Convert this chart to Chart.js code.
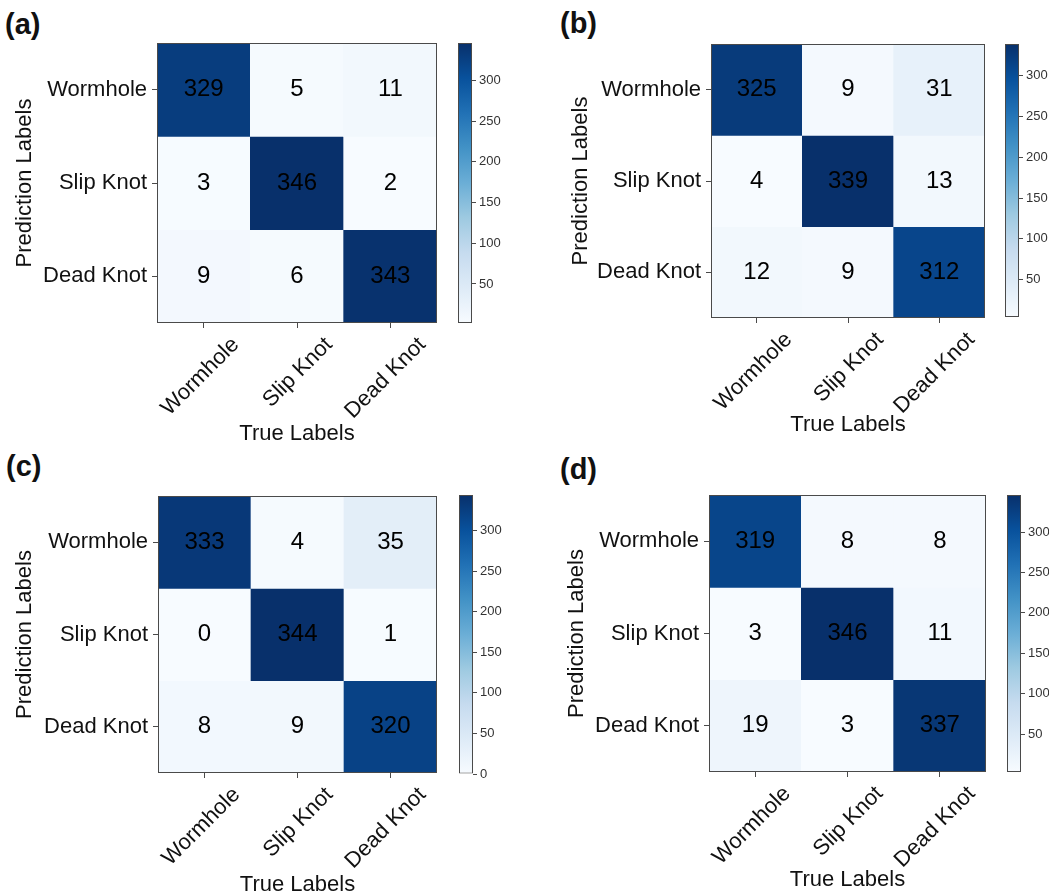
<!DOCTYPE html>
<html>
<head>
<meta charset="utf-8">
<script src="https://cdn.jsdelivr.net/npm/chart.js@4.4.1/dist/chart.umd.min.js"></script>
<style>
  html, body { margin: 0; padding: 0; background: #fff; }
  body { width: 1049px; height: 896px; position: relative; overflow: hidden;
         font-family: 'Liberation Sans', Arial, sans-serif; }
  canvas { position: absolute; }
  .tag { position: absolute; font-weight: bold; font-size: 29px; line-height: 29px; color: #111; }
</style>
</head>
<body>
<div class="tag" style="left:5px;top:10px">(a)</div>
<div class="tag" style="left:560px;top:9px">(b)</div>
<div class="tag" style="left:6px;top:452px">(c)</div>
<div class="tag" style="left:560px;top:455px">(d)</div>
<script>
// Class names on both axes
const trueLabels = ['Wormhole', 'Slip Knot', 'Dead Knot'];
const predLabels = ['Wormhole', 'Slip Knot', 'Dead Knot'];

// Confusion matrices: rows = predicted class, columns = true class
const matrixA = [[329, 5, 11], [3, 346, 2], [9, 6, 343]];
const matrixB = [[325, 9, 31], [4, 339, 13], [12, 9, 312]];
const matrixC = [[333, 4, 35], [0, 344, 1], [8, 9, 320]];
const matrixD = [[319, 8, 8], [3, 346, 11], [19, 3, 337]];

// Colour-bar tick values
const colorbarTicksA = [50, 100, 150, 200, 250, 300];
const colorbarTicksB = [50, 100, 150, 200, 250, 300];
const colorbarTicksC = [0, 50, 100, 150, 200, 250, 300];
const colorbarTicksD = [50, 100, 150, 200, 250, 300];

// Sequential blue colour map
const BLUES = ['#f7fbff', '#deebf7', '#c6dbef', '#9ecae1', '#6baed6',
               '#4292c6', '#2171b5', '#08519c', '#08306b'];

function hexToRgb(h) {
  return [parseInt(h.slice(1, 3), 16), parseInt(h.slice(3, 5), 16), parseInt(h.slice(5, 7), 16)];
}
function blues(t) {
  t = Math.max(0, Math.min(1, t));
  const pos = t * (BLUES.length - 1);
  const i = Math.min(Math.floor(pos), BLUES.length - 2);
  const f = pos - i;
  const a = hexToRgb(BLUES[i]), b = hexToRgb(BLUES[i + 1]);
  const c = a.map((v, k) => Math.round(v + (b[k] - v) * f));
  return `rgb(${c[0]},${c[1]},${c[2]})`;
}

Chart.defaults.font.family = "'Liberation Sans', Arial, sans-serif";
Chart.defaults.color = '#111';

const FRAME = '#4a4a4a';

// Outline around the plotting area
const framePlugin = {
  id: 'frame',
  afterDatasetsDraw(chart) {
    const { ctx, chartArea: a } = chart;
    ctx.save();
    ctx.strokeStyle = FRAME;
    ctx.lineWidth = 1;
    ctx.strokeRect(a.left + 0.5, a.top + 0.5, a.right - a.left - 1, a.bottom - a.top - 1);
    ctx.restore();
  }
};

// Count printed in the middle of each cell
const cellTextPlugin = {
  id: 'cellText',
  afterDatasetsDraw(chart) {
    const ctx = chart.ctx;
    ctx.save();
    ctx.font = "24px 'Liberation Sans', Arial, sans-serif";
    ctx.fillStyle = '#000';
    ctx.textAlign = 'center';
    ctx.textBaseline = 'middle';
    chart.data.datasets.forEach((ds, r) => {
      chart.getDatasetMeta(r).data.forEach((bar, c) => {
        const p = bar.getProps(['x', 'y', 'base'], true);
        ctx.fillText(String(ds.values[c]), p.x, (p.y + p.base) / 2);
      });
    });
    ctx.restore();
  }
};

function addCanvas(left, top, width, height) {
  const cv = document.createElement('canvas');
  cv.width = width;
  cv.height = height;
  cv.style.left = left + 'px';
  cv.style.top = top + 'px';
  document.body.appendChild(cv);
  return cv;
}

function heatmap(matrix, g) {
  const flat = matrix.flat();
  const vmin = Math.min(...flat), vmax = Math.max(...flat);
  const padTop = 30;
  const left = Math.round(g.yTitleX - 13);
  const top = g.plot.t - padTop;
  const right = g.plot.r + 8;
  const bottom = Math.round(g.xTitleY + 13);
  const cv = addCanvas(left, top, right - left, bottom - top);

  new Chart(cv, {
    type: 'bar',
    data: {
      labels: trueLabels,
      datasets: predLabels.map((name, r) => ({
        label: name,
        values: matrix[r],
        data: matrix[r].map(() => [r, r + 1]),
        backgroundColor: matrix[r].map(v => blues((v - vmin) / (vmax - vmin))),
        borderWidth: 0,
        grouped: false,
        categoryPercentage: 1,
        barPercentage: 1
      }))
    },
    options: {
      responsive: false,
      animation: false,
      events: [],
      layout: { padding: { left: 0, top: padTop, right: right - g.plot.r, bottom: 0 } },
      plugins: { legend: { display: false }, tooltip: { enabled: false } },
      scales: {
        x: {
          type: 'category',
          offset: true,
          grid: { offset: false, drawOnChartArea: false, tickLength: 5, color: FRAME },
          border: { display: false },
          ticks: { minRotation: 45, maxRotation: 45, autoSkip: false, labelOffset: 32,
                   padding: 4, color: '#111', font: { size: 22 } },
          title: { display: true, text: 'True Labels', color: '#111', font: { size: 22 }, padding: 0 },
          afterFit(s) { s.height = bottom - g.plot.b; }
        },
        y: {
          type: 'linear',
          min: 0,
          max: predLabels.length,
          reverse: true,
          afterBuildTicks(s) { s.ticks = predLabels.map((_, i) => ({ value: i + 0.5 })); },
          ticks: { callback: v => predLabels[Math.floor(v)], color: '#111', font: { size: 22 }, padding: 5 },
          grid: { drawOnChartArea: false, tickLength: 5, color: FRAME },
          border: { display: false },
          title: { display: true, text: 'Prediction Labels', color: '#111', font: { size: 22 }, padding: 0 },
          afterFit(s) { s.width = g.plot.l - left; }
        }
      }
    },
    plugins: [framePlugin, cellTextPlugin]
  });
}

function colorbar(matrix, ticks, cb) {
  const flat = matrix.flat();
  const vmin = Math.min(...flat), vmax = Math.max(...flat);
  const axisW = 45;
  const pad = 16;
  const cv = addCanvas(cb.l, cb.t - pad, cb.r - cb.l + axisW, cb.b - cb.t + 2 * pad);

  new Chart(cv, {
    type: 'bar',
    data: {
      labels: [''],
      datasets: [{
        data: [[vmin, vmax]],
        backgroundColor(c) {
          const a = c.chart.chartArea;
          if (!a) return blues(0.5);
          const grad = c.chart.ctx.createLinearGradient(0, a.bottom, 0, a.top);
          BLUES.forEach((col, i) => grad.addColorStop(i / (BLUES.length - 1), col));
          return grad;
        },
        borderColor: FRAME,
        borderWidth: 1,
        borderSkipped: false,
        inflateAmount: 0,
        categoryPercentage: 1,
        barPercentage: 1
      }]
    },
    options: {
      responsive: false,
      animation: false,
      events: [],
      layout: { padding: { top: pad, bottom: pad, left: 0, right: 0 } },
      plugins: { legend: { display: false }, tooltip: { enabled: false } },
      scales: {
        x: { display: false },
        y: {
          position: 'right',
          min: vmin,
          max: vmax,
          afterBuildTicks(s) { s.ticks = ticks.map(v => ({ value: v })); },
          ticks: { color: '#333', font: { size: 13 }, padding: 3 },
          grid: { drawOnChartArea: false, tickLength: 4, color: FRAME },
          border: { display: false },
          afterFit(s) { s.width = axisW; }
        }
      }
    }
  });
}

// Panel placement
const panels = [
  { m: matrixA, t: colorbarTicksA, plot: { l: 157, t: 43, r: 437, b: 323 }, cb: { l: 458, r: 472, t: 43, b: 323 }, yTitleX: 25, xTitleY: 434 },
  { m: matrixB, t: colorbarTicksB, plot: { l: 711, t: 44, r: 985, b: 318 }, cb: { l: 1005, r: 1019, t: 44, b: 317 }, yTitleX: 581, xTitleY: 425 },
  { m: matrixC, t: colorbarTicksC, plot: { l: 158, t: 496, r: 437, b: 773 }, cb: { l: 459, r: 473, t: 495, b: 774 }, yTitleX: 25, xTitleY: 885 },
  { m: matrixD, t: colorbarTicksD, plot: { l: 709, t: 495, r: 986, b: 772 }, cb: { l: 1007, r: 1021, t: 495, b: 772 }, yTitleX: 577, xTitleY: 880 }
];

panels.forEach(p => {
  heatmap(p.m, p);
  colorbar(p.m, p.t, p.cb);
});
</script>
</body>
</html>
